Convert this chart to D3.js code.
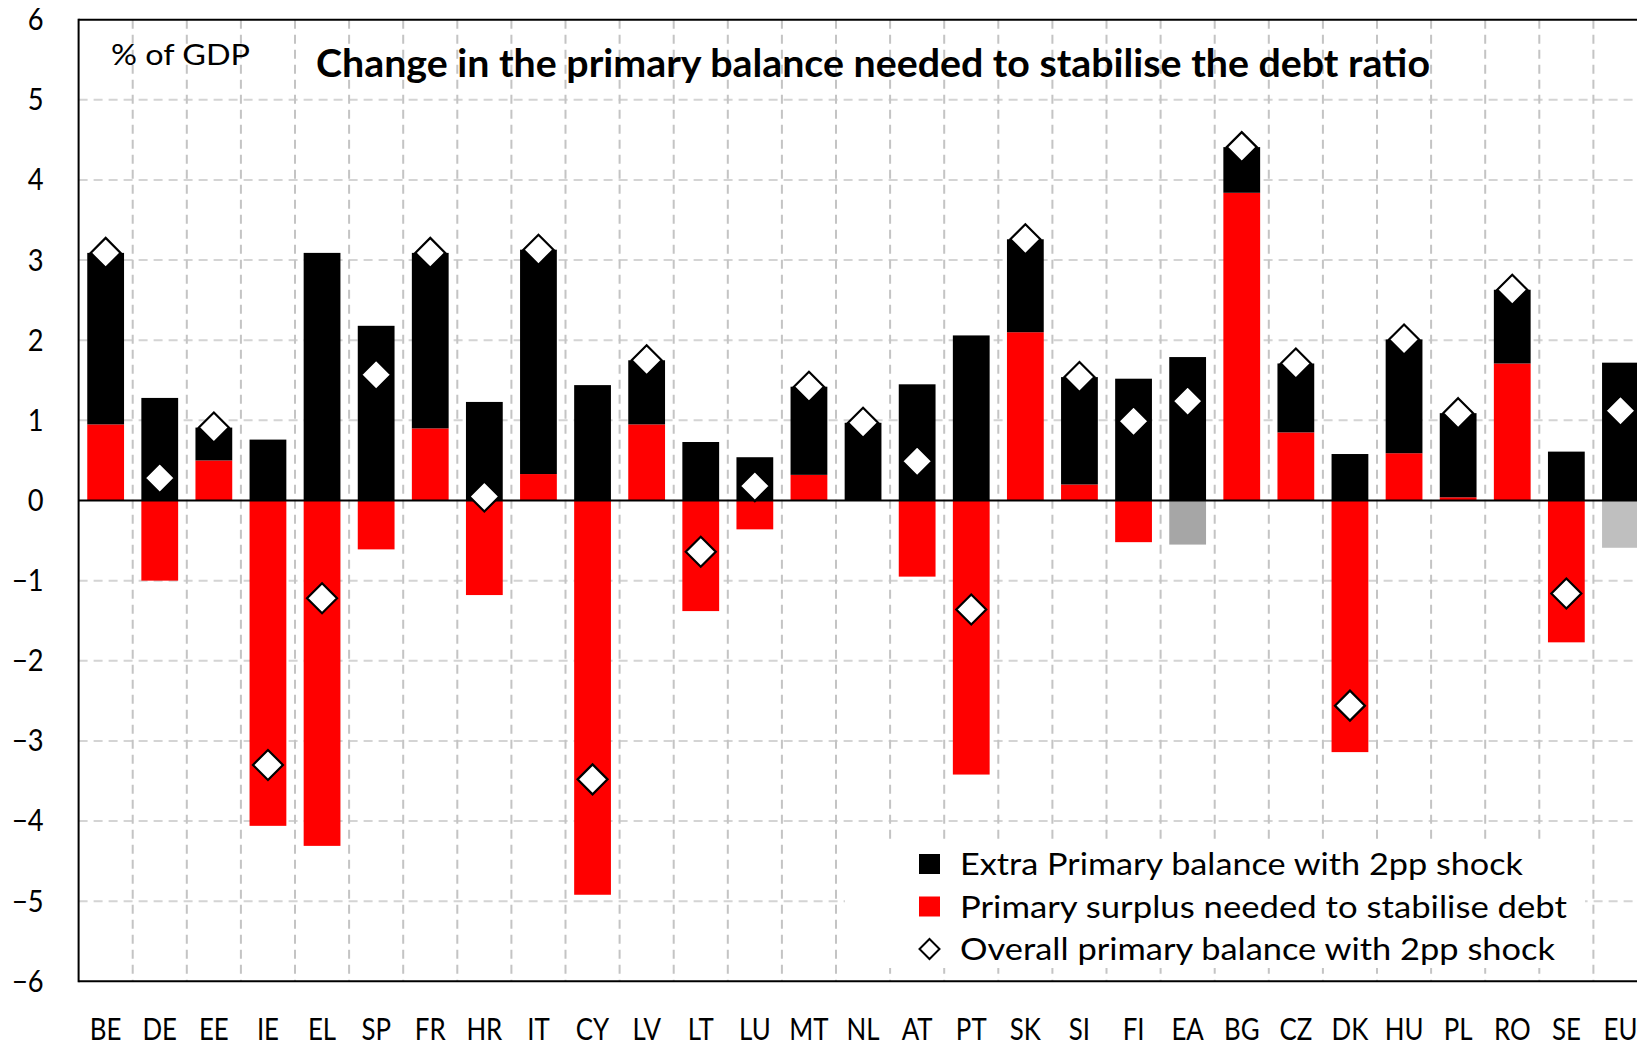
<!DOCTYPE html>
<html>
<head>
<meta charset="utf-8">
<script src="https://cdn.jsdelivr.net/npm/d3@7"></script>
<style>
  body { margin: 0; background: #fff; }
  svg { display: block; font-family: Lato, "Open Sans", sans-serif; }
</style>
</head>
<body>
<svg id="chart" width="1637" height="1047"></svg>
<script>
// categories and values (% of GDP)
const countries = ["BE","DE","EE","IE","EL","SP","FR","HR","IT","CY","LV","LT","LU","MT","NL",
                   "AT","PT","SK","SI","FI","EA","BG","CZ","DK","HU","PL","RO","SE","EU"];
const surplusNeeded = [0.95,-1.00,0.50,-4.06,-4.31,-0.61,0.90,-1.18,0.33,-4.92,0.95,-1.38,-0.36,0.32,0.00,
                       -0.95,-3.42,2.10,0.20,-0.52,-0.55,3.84,0.85,-3.14,0.59,0.04,1.71,-1.77,-0.59];
const extraShock = [2.14,1.28,0.41,0.76,3.09,2.18,2.19,1.23,2.80,1.44,0.80,0.73,0.54,1.10,0.97,
                    1.45,2.06,1.16,1.34,1.52,1.79,0.57,0.86,0.58,1.42,1.05,0.92,0.61,1.72];
const overallShock = [3.09,0.28,0.91,-3.30,-1.22,1.57,3.09,0.05,3.13,-3.48,1.75,-0.64,0.18,1.42,0.97,
                      0.49,-1.36,3.26,1.54,0.99,1.24,4.41,1.71,-2.56,2.01,1.09,2.63,-1.16,1.12];
const yTicks = [-6,-5,-4,-3,-2,-1,0,1,2,3,4,5,6];
const legendLabels = ["Extra Primary balance with 2pp shock",
                      "Primary surplus needed to stabilise debt",
                      "Overall primary balance with 2pp shock"];

const svg = d3.select("#chart");
const plotLeft = 78.6, plotTop = 19.7, plotBottom = 981.3;
const step = 54.1;

const x = d3.scaleBand()
  .domain(countries)
  .range([plotLeft, plotLeft + step * countries.length])
  .paddingInner(0.32)
  .paddingOuter(0.16);

const y = d3.scaleLinear().domain([-6, 6]).range([plotBottom, plotTop]);

// aggregates (EA, EU) are shown in grey instead of red
const greyFill = { EA: "#a6a6a6", EU: "#bfbfbf" };

const rows = countries.map((c, i) => ({ country: c, surplus: surplusNeeded[i], extra: extraShock[i], overall: overallShock[i] }));

// squeeze text a bit so Lato looks closer to the narrow Calibri of the original
function narrow(sel, k) {
  sel.each(function () {
    const w = this.getComputedTextLength();
    d3.select(this).attr("textLength", w * k).attr("lengthAdjust", "spacingAndGlyphs");
  });
}

// horizontal grid
svg.append("g").selectAll("line")
  .data(yTicks.filter(t => t > -6 && t < 6 && t !== 0))
  .enter().append("line")
  .attr("x1", plotLeft).attr("x2", 1637)
  .attr("y1", d => y(d)).attr("y2", d => y(d))
  .attr("stroke", "#d4d4d4").attr("stroke-width", 2)
  .attr("stroke-dasharray", "9,6");

// vertical grid at category boundaries
svg.append("g").selectAll("line")
  .data(d3.range(1, countries.length + 1))
  .enter().append("line")
  .attr("x1", i => plotLeft + i * x.step()).attr("x2", i => plotLeft + i * x.step())
  .attr("y1", plotTop).attr("y2", plotBottom)
  .attr("stroke", "#c4c4c4").attr("stroke-width", 2)
  .attr("stroke-dasharray", "9,6");

// stacked bars, positives and negatives stacked apart like Excel does
const stack = d3.stack().keys(["surplus", "extra"]).offset(d3.stackOffsetDiverging);
const series = stack(rows);

const barG = svg.append("g");
series.forEach(s => {
  barG.append("g").selectAll("rect")
    .data(s)
    .enter().append("rect")
    .attr("x", d => x(d.data.country))
    .attr("width", x.bandwidth())
    .attr("y", d => y(Math.max(d[0], d[1])))
    .attr("height", d => Math.abs(y(d[0]) - y(d[1])))
    .attr("fill", d => s.key === "extra" ? "#000" : (greyFill[d.data.country] || "#ff0000"));
});

// zero line and frame
svg.append("line").attr("x1", plotLeft).attr("x2", 1637).attr("y1", y(0)).attr("y2", y(0))
  .attr("stroke", "#000").attr("stroke-width", 2);
svg.append("line").attr("x1", plotLeft).attr("x2", 1637).attr("y1", plotTop).attr("y2", plotTop)
  .attr("stroke", "#000").attr("stroke-width", 2);
svg.append("line").attr("x1", plotLeft).attr("x2", 1637).attr("y1", plotBottom).attr("y2", plotBottom)
  .attr("stroke", "#000").attr("stroke-width", 2);
svg.append("line").attr("x1", plotLeft).attr("x2", plotLeft).attr("y1", plotTop - 1).attr("y2", plotBottom + 1)
  .attr("stroke", "#000").attr("stroke-width", 2);

// diamonds
const diamond = r => `M0,${-r}L${r},0L0,${r}L${-r},0Z`;
svg.append("g").selectAll("path")
  .data(rows)
  .enter().append("path")
  .attr("d", diamond(15))
  .attr("transform", d => `translate(${x(d.country) + x.bandwidth() / 2},${y(d.overall)})`)
  .attr("fill", "#fff").attr("stroke", "#000").attr("stroke-width", 2.2);

// y axis labels
const yAxis = d3.axisLeft(y).tickValues(yTicks).tickSize(0).tickPadding(35).tickFormat(d3.format("d"));
const ya = svg.append("g").attr("transform", `translate(${plotLeft},0)`).call(yAxis);
ya.select(".domain").remove();
ya.selectAll("text").attr("font-size", 31).attr("font-family", "Lato").attr("fill", "#000");
narrow(ya.selectAll("text"), 0.88);

// x axis labels
const xAxis = d3.axisBottom(x).tickSize(0).tickPadding(0);
const xa = svg.append("g").attr("transform", `translate(0,${plotBottom})`).call(xAxis);
xa.select(".domain").remove();
xa.selectAll("text").attr("font-size", 31.5).attr("font-family", "Lato").attr("fill", "#000")
  .attr("dy", 0).attr("y", 59);
narrow(xa.selectAll("text"), 0.82);

// titles
svg.append("text").attr("x", 111).attr("y", 65)
  .attr("font-size", 29).attr("textLength", 139).attr("lengthAdjust", "spacingAndGlyphs")
  .text("% of GDP");
svg.append("text").attr("x", 316).attr("y", 77)
  .attr("font-size", 37.5).attr("font-weight", "bold")
  .attr("textLength", 1114).attr("lengthAdjust", "spacingAndGlyphs")
  .text("Change in the primary balance needed to stabilise the debt ratio");

// legend
const legend = svg.append("g");
legend.append("rect").attr("x", 845).attr("y", 842).attr("width", 740).attr("height", 126).attr("fill", "#fff");
const legendWidths = [563, 607, 595];
legendLabels.forEach((lab, i) => {
  const cy = 864 + i * 42.5;
  if (i === 0 || i === 1) {
    legend.append("rect").attr("x", 919).attr("y", cy - 10).attr("width", 21).attr("height", 20)
      .attr("fill", i === 0 ? "#000" : "#ff0000");
  } else {
    legend.append("path").attr("d", diamond(10)).attr("transform", `translate(929.5,${cy})`)
      .attr("fill", "#fff").attr("stroke", "#000").attr("stroke-width", 2);
  }
  legend.append("text").attr("x", 960).attr("y", cy + 11)
    .attr("font-size", 31).attr("textLength", legendWidths[i]).attr("lengthAdjust", "spacingAndGlyphs")
    .text(lab);
});
</script>
</body>
</html>
